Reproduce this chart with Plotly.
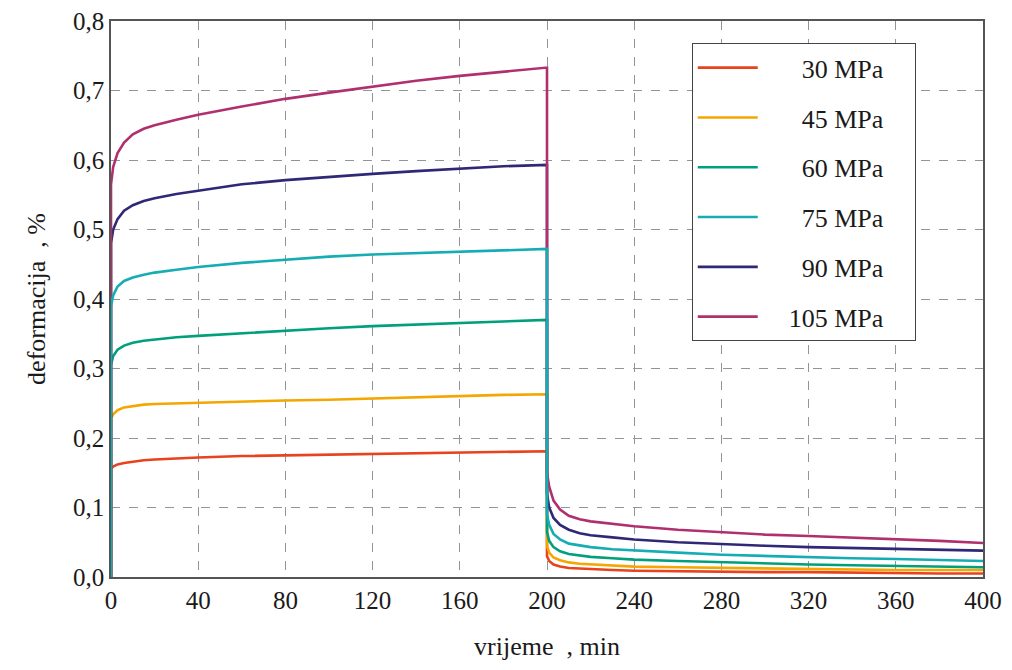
import plotly.graph_objects as go

# time samples (min)
t = [0, 0, 1, 3, 6, 10, 15, 20, 30, 40, 60, 80, 100, 120, 140, 160, 180, 200,
     200, 201, 203, 206, 210, 215, 220, 230, 240, 260, 280, 300, 320, 340, 360, 380, 400]

series_names = ["30 MPa", "45 MPa", "60 MPa", "75 MPa", "90 MPa", "105 MPa"]

d30 = [0, 0.155, 0.159, 0.162, 0.164, 0.166, 0.168, 0.169, 0.171, 0.172, 0.174, 0.175, 0.176, 0.177, 0.178, 0.179, 0.180, 0.181,
       0.030, 0.023, 0.018, 0.015, 0.013, 0.012, 0.011, 0.010, 0.009, 0.008, 0.008, 0.007, 0.007, 0.006, 0.006, 0.005, 0.005]
d45 = [0, 0.228, 0.234, 0.240, 0.244, 0.246, 0.248, 0.249, 0.250, 0.251, 0.252, 0.254, 0.255, 0.257, 0.259, 0.260, 0.262, 0.263,
       0.045, 0.035, 0.028, 0.024, 0.021, 0.019, 0.018, 0.016, 0.015, 0.014, 0.013, 0.012, 0.011, 0.011, 0.010, 0.010, 0.010]
d60 = [0, 0.305, 0.318, 0.327, 0.333, 0.337, 0.340, 0.342, 0.345, 0.347, 0.351, 0.355, 0.358, 0.361, 0.363, 0.365, 0.368, 0.370,
       0.065, 0.052, 0.043, 0.037, 0.033, 0.031, 0.029, 0.027, 0.025, 0.023, 0.021, 0.019, 0.018, 0.017, 0.016, 0.015, 0.014]
d75 = [0, 0.390, 0.405, 0.418, 0.426, 0.431, 0.435, 0.438, 0.442, 0.446, 0.452, 0.457, 0.461, 0.464, 0.466, 0.468, 0.470, 0.472,
       0.090, 0.075, 0.062, 0.054, 0.048, 0.045, 0.043, 0.040, 0.038, 0.035, 0.032, 0.030, 0.029, 0.027, 0.026, 0.025, 0.023]
d90 = [0, 0.480, 0.500, 0.515, 0.527, 0.535, 0.541, 0.545, 0.551, 0.556, 0.565, 0.571, 0.576, 0.580, 0.584, 0.588, 0.591, 0.593,
       0.120, 0.100, 0.085, 0.075, 0.068, 0.063, 0.060, 0.057, 0.054, 0.050, 0.047, 0.045, 0.043, 0.042, 0.040, 0.039, 0.038]
d105 = [0, 0.565, 0.590, 0.610, 0.625, 0.637, 0.645, 0.650, 0.658, 0.665, 0.677, 0.688, 0.697, 0.706, 0.714, 0.721, 0.727, 0.733,
        0.150, 0.130, 0.110, 0.097, 0.088, 0.083, 0.080, 0.076, 0.073, 0.068, 0.064, 0.061, 0.059, 0.057, 0.055, 0.052, 0.049]

x_ticks = [0, 40, 80, 120, 160, 200, 240, 280, 320, 360, 400]
y_ticks = [0.0, 0.1, 0.2, 0.3, 0.4, 0.5, 0.6, 0.7, 0.8]

colors = ["#E8421E", "#F4A700", "#00A07C", "#15ADB3", "#2F2877", "#B0306F"]
data = [d30, d45, d60, d75, d90, d105]

# draw order: 75 MPa drawn last (on top), legend kept in natural order
draw_order = [0, 1, 2, 4, 5, 3]
fig = go.Figure()
for i in draw_order:
    label = series_names[i] if i == 5 else "\u2007" + series_names[i]
    fig.add_trace(go.Scatter(
        x=t, y=data[i], mode="lines", name="\u2007\u2007" + label + "\u2007\u2007",
        line=dict(color=colors[i], width=2.6, shape="linear"),
        legendrank=i + 1, legendgroup=str(i),
    ))

font_family = "Liberation Serif"
fs = 26
tfs = 25
fig.update_layout(
    width=1004, height=662,
    margin=dict(l=103, r=29, t=13, b=93),
    paper_bgcolor="white", plot_bgcolor="white",
    separators=",.",
    font=dict(family=font_family, size=fs, color="#1a1a1a"),
    showlegend=True,
    legend=dict(
        x=0.666, y=0.960, xanchor="left", yanchor="top",
        bordercolor="#444444", borderwidth=1, bgcolor="white",
        font=dict(family=font_family, size=fs, color="#1a1a1a"),
        tracegroupgap=13, itemwidth=60,
    ),
    xaxis=dict(
        range=[0, 400], tickvals=x_ticks, ticks="", showline=True, linecolor="#555555",
        linewidth=1.5, mirror=True, showgrid=True, gridcolor="#8E959C", griddash="dash",
        gridwidth=1, zeroline=False, tickfont=dict(size=tfs), automargin=False,
        ticklabeloverflow="allow",
        title=dict(text="vrijeme\u00a0\u00a0, min", standoff=24, font=dict(size=fs)),
    ),
    yaxis=dict(
        range=[0, 0.8], tickvals=y_ticks, tickformat=".1f", ticks="", showline=True,
        linecolor="#555555", linewidth=1.5, mirror=True, showgrid=True, gridcolor="#8E959C",
        griddash="dash", gridwidth=1, zeroline=False, tickfont=dict(size=tfs), automargin=False,
        ticklabeloverflow="allow",
        title=dict(text="deformacija\u00a0\u00a0, %", standoff=20, font=dict(size=fs)),
    ),
)

fig.write_html("out.html")
